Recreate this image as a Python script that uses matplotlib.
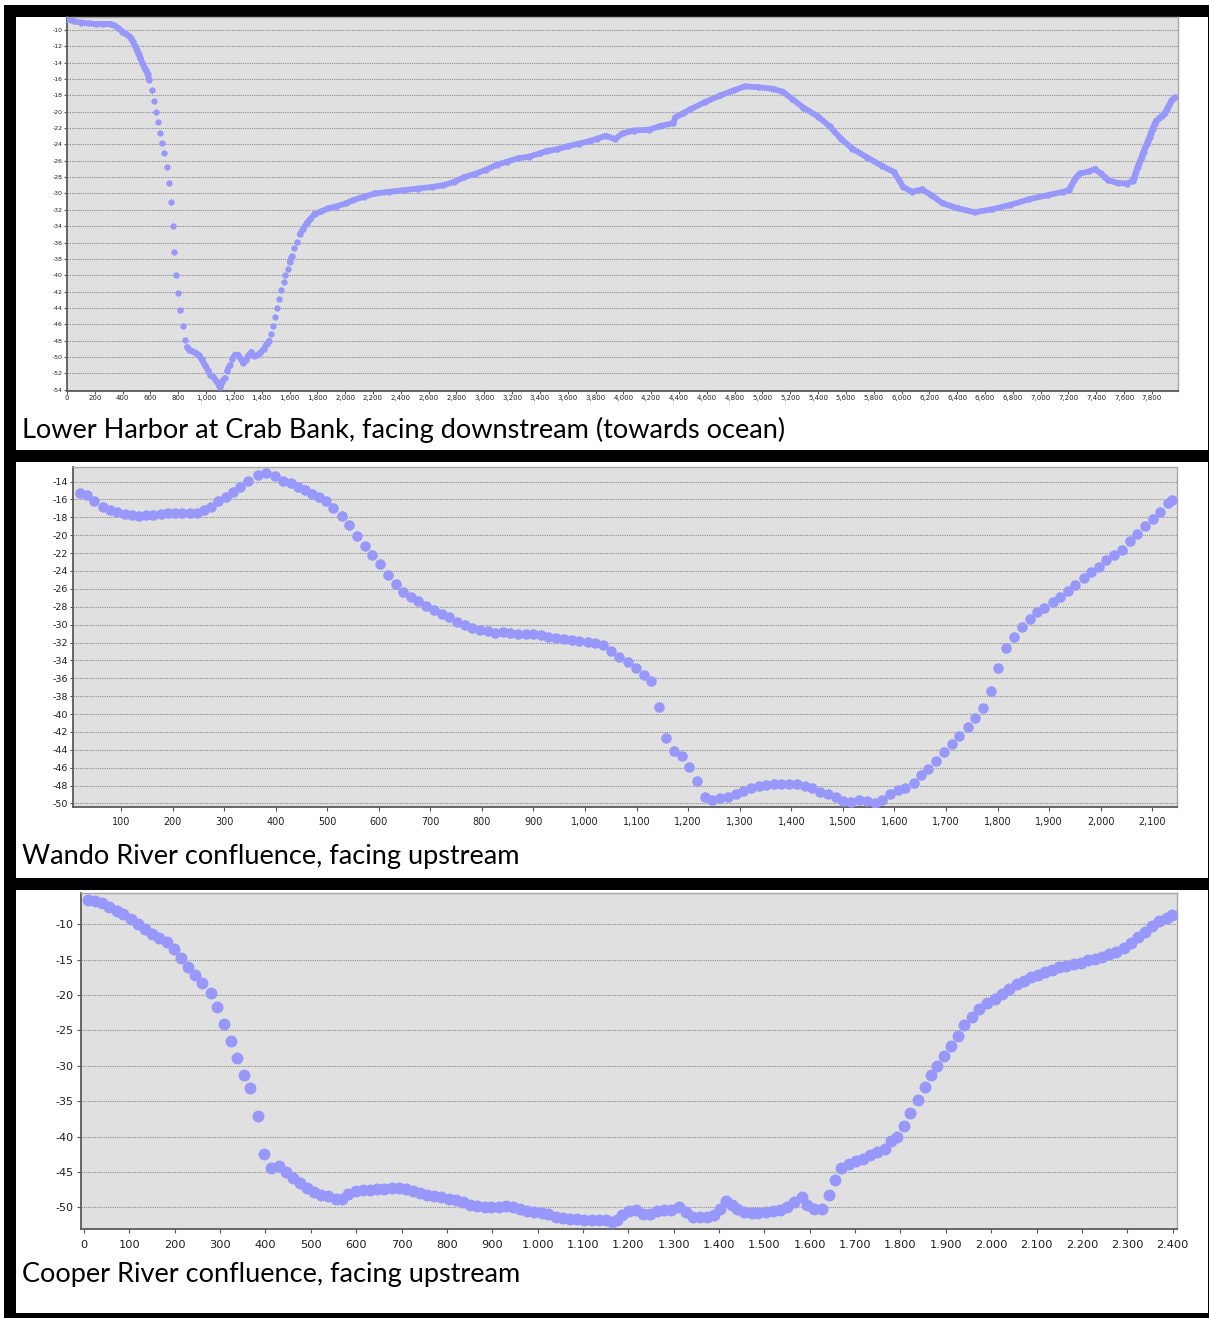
import numpy as np
import matplotlib
matplotlib.use("Agg")
import matplotlib.pyplot as plt
from matplotlib.patches import Rectangle
from matplotlib.collections import LineCollection
from matplotlib.ticker import FuncFormatter

# ---- data (distance, depth) ----
crab_x = [0, 50, 103, 155, 206, 260, 309, 335, 370, 399, 425, 450, 463, 476, 489, 502, 515, 528,
          541, 553, 566, 579, 592, 610, 625, 638, 654, 669, 685, 700, 716, 731, 746, 762, 772, 785,
          800, 816, 831, 847, 862, 880, 901, 927, 947, 968, 991, 1012, 1030, 1050, 1073, 1094, 1102,
          1115, 1133, 1151, 1171, 1189, 1210, 1228, 1248, 1266, 1287, 1305, 1326, 1344, 1364, 1390,
          1416, 1436, 1454, 1467, 1480, 1493, 1508, 1524, 1539, 1557, 1570, 1586, 1601, 1616, 1634,
          1653, 1673, 1699, 1725, 1750, 1781, 1828, 1879, 1931, 2008, 2059, 2136, 2214, 2317, 2420,
          2522, 2625, 2703, 2780, 2857, 2934, 3012, 3089, 3166, 3244, 3320, 3398, 3449, 3526, 3604,
          3681, 3758, 3810, 3874, 3940, 3995, 4076, 4184, 4265, 4360, 4373, 4430, 4482, 4590, 4698,
          4793, 4874, 4969, 5077, 5145, 5212, 5294, 5402, 5483, 5564, 5645, 5754, 5862, 5943, 5984,
          6011, 6078, 6146, 6214, 6295, 6403, 6525, 6647, 6782, 6917, 7053, 7161, 7202, 7222, 7242,
          7262, 7283, 7350, 7391, 7432, 7460, 7486, 7553, 7621, 7662, 7670, 7681, 7689, 7697, 7708,
          7719, 7729, 7740, 7751, 7762, 7773, 7784, 7794, 7805, 7819, 7832, 7851, 7870, 7892, 7908,
          7924, 7940, 7957, 7965]
crab_y = [-8.7, -8.95, -9.1, -9.2, -9.27, -9.27, -9.27, -9.4, -9.8, -10.2, -10.5, -10.8, -11.1,
          -11.43, -11.96, -12.45, -12.98, -13.47, -14.0, -14.49, -14.9, -15.39, -16.12, -17.4, -18.7,
          -20.0, -21.3, -22.6, -23.8, -25.1, -26.8, -28.7, -31.0, -34.0, -37.2, -40.0, -42.2, -44.3,
          -46.2, -47.9, -48.8, -49.1, -49.3, -49.5, -49.8, -50.3, -51.0, -51.6, -52.2, -52.4, -52.9,
          -53.5, -53.7, -53.0, -52.6, -51.7, -51.0, -50.2, -49.7, -49.7, -50.2, -50.7, -50.4, -49.8,
          -49.4, -49.9, -49.8, -49.5, -49.0, -48.4, -48.0, -47.2, -46.2, -45.1, -44.0, -42.9, -41.8,
          -40.8, -40.0, -39.2, -38.4, -37.7, -36.7, -35.9, -35.0, -34.3, -33.6, -33.1, -32.5, -32.2,
          -31.8, -31.6, -31.2, -30.8, -30.4, -30.0, -29.8, -29.6, -29.4, -29.2, -29.0, -28.6, -28.0,
          -27.6, -27.1, -26.5, -26.1, -25.7, -25.5, -25.1, -24.8, -24.6, -24.2, -23.9, -23.6, -23.3,
          -22.95, -23.35, -22.65, -22.3, -22.2, -21.75, -21.4, -20.7, -20.2, -19.7, -18.8, -18.0,
          -17.4, -16.9, -17.0, -17.2, -17.55, -18.4, -19.5, -20.6, -21.8, -23.3, -24.5, -25.6,
          -26.65, -27.35, -28.4, -29.2, -29.8, -29.5, -30.2, -31.2, -31.8, -32.3, -31.95, -31.4,
          -30.7, -30.2, -29.8, -29.6, -29.0, -28.4, -27.9, -27.55, -27.3, -27.0, -27.55, -28.0,
          -28.4, -28.7, -28.8, -28.45, -28.16, -27.63, -27.22, -26.73, -26.33, -25.84, -25.39,
          -24.9, -24.37, -23.96, -23.55, -23.06, -22.57, -22.08, -21.51, -21.1, -20.82, -20.53,
          -20.2, -19.71, -19.18, -18.65, -18.37, -18.24]

wando_x = [20, 34, 48, 65, 79, 93, 107, 121, 135, 149, 163, 177, 191, 205, 219, 233, 247, 261, 275,
           289, 303, 317, 331, 347, 366, 382, 398, 415, 429, 443, 457, 471, 484, 498, 512, 528, 543,
           557, 573, 587, 602, 617, 633, 647, 662, 676, 691, 707, 722, 736, 751, 767, 781, 796, 812,
           826, 841, 855, 870, 886, 900, 915, 929, 944, 960, 975, 989, 1005, 1020, 1035, 1051, 1066,
           1083, 1098, 1114, 1128, 1143, 1157, 1172, 1188, 1202, 1217, 1232, 1246, 1262, 1277, 1293,
           1306, 1322, 1337, 1351, 1367, 1381, 1396, 1411, 1427, 1441, 1456, 1471, 1487, 1501, 1516,
           1532, 1547, 1562, 1576, 1592, 1607, 1621, 1637, 1652, 1666, 1681, 1697, 1712, 1726, 1742,
           1757, 1772, 1788, 1801, 1817, 1832, 1847, 1862, 1877, 1891, 1907, 1922, 1937, 1951, 1967,
           1982, 1996, 2011, 2026, 2042, 2057, 2071, 2086, 2101, 2115, 2131, 2138]
wando_y = [-15.3, -15.5, -16.2, -16.8, -17.2, -17.4, -17.6, -17.7, -17.8, -17.7, -17.7, -17.6, -17.5,
           -17.5, -17.5, -17.5, -17.5, -17.2, -16.8, -16.2, -15.7, -15.2, -14.6, -13.9, -13.3, -13.0,
           -13.4, -13.9, -14.2, -14.6, -14.9, -15.4, -15.75, -16.2, -16.9, -17.9, -18.9, -20.1, -21.2,
           -22.2, -23.25, -24.4, -25.5, -26.3, -26.9, -27.4, -27.9, -28.4, -28.8, -29.2, -29.7, -30.0,
           -30.4, -30.6, -30.75, -30.9, -30.8, -30.9, -31.0, -31.05, -31.1, -31.2, -31.35, -31.5,
           -31.6, -31.7, -31.8, -31.9, -32.1, -32.3, -33.0, -33.6, -34.2, -34.9, -35.6, -36.3, -39.2,
           -42.7, -44.1, -44.7, -45.9, -47.5, -49.3, -49.6, -49.4, -49.3, -48.9, -48.6, -48.3, -48.1,
           -47.95, -47.8, -47.8, -47.8, -47.8, -48.1, -48.3, -48.7, -49.0, -49.3, -49.7, -49.8, -49.6,
           -49.7, -49.9, -49.6, -48.9, -48.5, -48.3, -47.7, -46.8, -46.1, -45.2, -44.2, -43.4, -42.5,
           -41.4, -40.4, -39.3, -37.4, -34.8, -32.6, -31.35, -30.3, -29.4, -28.55, -28.1, -27.5,
           -26.9, -26.2, -25.6, -24.8, -24.1, -23.5, -22.8, -22.2, -21.6, -20.7, -19.9, -19.0, -18.2,
           -17.4, -16.4, -16.1]

cooper_x = [8, 24, 40, 56, 72, 87, 103, 119, 135, 150, 166, 182, 198, 213, 229, 245, 261, 279, 294,
            308, 323, 338, 352, 367, 383, 396, 413, 429, 445, 461, 476, 492, 508, 523, 539, 555, 568,
            583, 599, 615, 631, 647, 662, 678, 694, 709, 725, 741, 757, 772, 788, 804, 820, 835, 851,
            867, 883, 898, 914, 930, 945, 961, 977, 993, 1009, 1024, 1040, 1056, 1071, 1087, 1103,
            1119, 1135, 1150, 1163, 1174, 1185, 1201, 1216, 1232, 1248, 1264, 1279, 1295, 1311, 1327,
            1342, 1358, 1374, 1390, 1402, 1415, 1428, 1440, 1456, 1472, 1487, 1503, 1519, 1535, 1550,
            1566, 1582, 1594, 1610, 1626, 1642, 1656, 1670, 1686, 1701, 1717, 1733, 1749, 1765, 1780,
            1793, 1807, 1821, 1838, 1853, 1867, 1881, 1895, 1911, 1927, 1941, 1957, 1973, 1990, 2009,
            2024, 2040, 2056, 2072, 2087, 2103, 2119, 2135, 2150, 2166, 2182, 2197, 2213, 2229, 2245,
            2260, 2276, 2292, 2308, 2323, 2339, 2355, 2371, 2387, 2398]
cooper_y = [-6.6, -6.65, -7.0, -7.5, -8.1, -8.6, -9.25, -9.9, -10.6, -11.3, -11.9, -12.45, -13.5,
            -14.8, -16.0, -17.2, -18.3, -19.7, -21.65, -24.15, -26.45, -28.95, -31.3, -33.2, -37.1,
            -42.45, -44.5, -44.2, -45.0, -45.8, -46.6, -47.3, -47.8, -48.2, -48.4, -48.8, -48.8,
            -48.1, -47.7, -47.6, -47.5, -47.45, -47.35, -47.3, -47.2, -47.45, -47.7, -48.0, -48.2,
            -48.4, -48.5, -48.8, -49.0, -49.25, -49.6, -49.8, -49.9, -49.95, -49.95, -49.8, -49.95,
            -50.3, -50.5, -50.7, -50.8, -51.0, -51.3, -51.5, -51.6, -51.6, -51.75, -51.75, -51.85,
            -51.85, -52.1, -51.75, -51.1, -50.5, -50.4, -51.0, -50.9, -50.5, -50.4, -50.4, -49.95,
            -50.7, -51.4, -51.3, -51.3, -51.1, -50.2, -49.1, -49.6, -50.2, -50.7, -50.8, -50.8, -50.7,
            -50.5, -50.4, -49.9, -49.25, -48.5, -49.7, -50.2, -50.3, -48.3, -46.1, -44.5, -43.9,
            -43.4, -43.1, -42.6, -42.2, -41.7, -40.6, -40.05, -38.5, -36.7, -34.8, -33.0, -31.3,
            -30.05, -28.6, -27.2, -25.75, -24.25, -23.1, -21.9, -21.1, -20.5, -19.9, -19.15, -18.5,
            -17.95, -17.5, -17.1, -16.7, -16.4, -16.1, -15.85, -15.6, -15.4, -15.1, -14.9, -14.6,
            -14.25, -13.9, -13.4, -12.6, -11.85, -11.05, -10.25, -9.6, -9.05, -8.7]

crab_xticks = list(range(0, 7801, 200))
crab_yticks = list(range(-54, -9, 2))
wando_xticks = list(range(100, 2101, 100))
wando_yticks = list(range(-50, -13, 2))
cooper_xticks = list(range(0, 2401, 100))
cooper_yticks = list(range(-50, -9, 5))

captions = ["Lower Harbor at Crab Bank, facing downstream (towards ocean)",
            "Wando River confluence, facing upstream",
            "Cooper River confluence, facing upstream"]

# ---- styling ----
W, H = 1209, 1318
dot_color = "#9898fc"
plot_bg = "#e0e0e0"
grid_color = "#8c8c8c"
label_color = "#1e1e1e"


def box(l, t, r, b):
    # pixel box (from top-left) -> figure fraction rect
    return [l / W, 1 - b / H, (r - l) / W, (b - t) / H]


fig = plt.figure(figsize=(W / 100, H / 100), dpi=100)
fig.patch.set_facecolor("white")

# black frame with white panels
fig.add_artist(Rectangle((4 / W, 0), (W - 4) / W, (H - 5) / H, transform=fig.transFigure,
                         facecolor="black", edgecolor="none", zorder=-10))
for t, b in [(17, 449.5), (462, 877.5), (889.5, 1312.5)]:
    l, bb, w, h = box(16, t, 1208, b)
    fig.add_artist(Rectangle((l, bb), w, h, transform=fig.transFigure,
                             facecolor="white", edgecolor="none", zorder=-9))


def style_axes(ax, xticks, yticks, xlim, ylim, fmt, xsize, ysize, xlen, xpad, ylen, ypad):
    ax.set_facecolor(plot_bg)
    ax.set_xlim(*xlim)
    ax.set_ylim(*ylim)
    ax.set_xticks(xticks)
    ax.set_yticks(yticks)
    ax.xaxis.set_major_formatter(FuncFormatter(fmt))
    ax.yaxis.set_major_formatter(FuncFormatter(lambda v, p: f"{v:.0f}"))
    ax.grid(axis="y", color=grid_color, linestyle=(0, (1, 1)), linewidth=0.8)
    ax.set_axisbelow(True)
    for s in ["left", "bottom"]:
        ax.spines[s].set_color("#5a5a5a")
        ax.spines[s].set_linewidth(1.3)
    for s in ["top", "right"]:
        ax.spines[s].set_color("#a8a8a8")
        ax.spines[s].set_linewidth(1.0)
    ax.tick_params(axis="x", labelsize=xsize, length=xlen, pad=xpad, width=0.8,
                   color="#555555", labelcolor=label_color)
    ax.tick_params(axis="y", labelsize=ysize, length=ylen, pad=ypad, width=0.8,
                   color="#555555", labelcolor=label_color)


comma = lambda v, p: f"{v:,.0f}"
dot_sep = lambda v, p: f"{v:,.0f}".replace(",", ".")

# panel 1: Crab Bank
ax1 = fig.add_axes(box(67, 17.3, 1178.3, 390.5))
style_axes(ax1, crab_xticks, crab_yticks, (0, 7990), (-54.1, -8.45), comma,
           5.0, 4.4, 2, 1.3, 2, 1.1)
ax1.plot(crab_x, crab_y, "o", color=dot_color, markersize=4.6, markeredgewidth=0, zorder=3)
# dense stretches of the survey look like a solid band: join points that are close together
xy = np.column_stack([crab_x, crab_y])
disp = ax1.transData.transform(xy)
dx = np.abs(np.diff(disp[:, 0]))
dy = np.abs(np.diff(disp[:, 1]))
join = (dy <= 6) | (dy < 2 * dx)
segs = [xy[i:i + 2] for i in np.flatnonzero(join)]
ax1.add_collection(LineCollection(segs, colors=dot_color, linewidths=4.2,
                                  capstyle="round", zorder=3))

# panel 2: Wando
ax2 = fig.add_axes(box(73, 467.3, 1177, 807))
style_axes(ax2, wando_xticks, wando_yticks, (7, 2148), (-50.4, -12.4), comma,
           6.9, 6.8, 3, 4.0, 2.5, 0.9)
ax2.plot(wando_x, wando_y, "o", color=dot_color, markersize=7.6, markeredgewidth=0, zorder=3)

# panel 3: Cooper
ax3 = fig.add_axes(box(81, 892.7, 1176.7, 1229.3))
style_axes(ax3, cooper_xticks, cooper_yticks, (-6.6, 2409), (-53.1, -5.53), dot_sep,
           8.2, 8.0, 3, 4.4, 3, 2.4)
ax3.plot(cooper_x, cooper_y, "o", color=dot_color, markersize=8.6, markeredgewidth=0, zorder=3)

# captions (Calibri-like), sized so the first one spans the same width as in the source
renderer = fig.canvas.get_renderer()
probe = fig.text(0, 0, captions[0], fontsize=20, family="Lato")
cap_size = 20 * 763 / probe.get_window_extent(renderer).width
probe.remove()
for cap, base in zip(captions, [438, 864, 1282]):
    fig.text(22 / W, 1 - base / H, cap, fontsize=cap_size, family="Lato",
             color="black", va="baseline", ha="left")

fig.savefig("out.png", dpi=100)
